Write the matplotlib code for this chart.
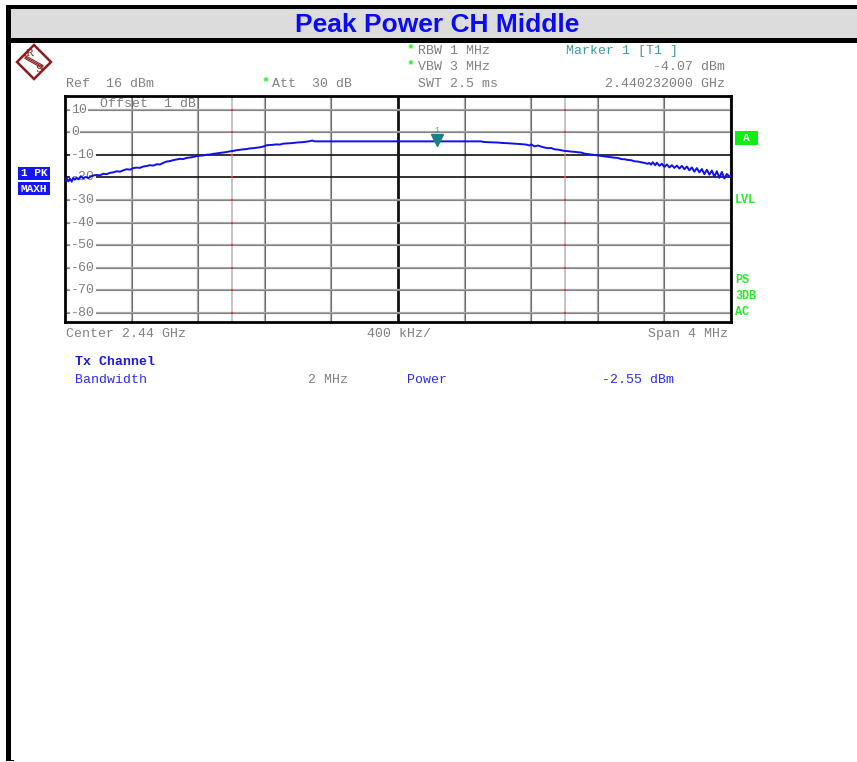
import numpy as np
import matplotlib.pyplot as plt
import matplotlib.patches as mpatches
import matplotlib.lines as mlines

W, H = 857, 762

# trace (offset from 2.44 GHz in MHz, level in dBm)
freq = [-2.000, -1.990, -1.980, -1.970, -1.960, -1.950, -1.940, -1.930, -1.920, -1.905,
        -1.890, -1.875, -1.860, -1.845, -1.830, -1.810, -1.790, -1.770, -1.750, -1.730,
        -1.710, -1.690, -1.670, -1.650, -1.630, -1.610, -1.590, -1.570, -1.550, -1.530,
        -1.510, -1.490, -1.470, -1.450, -1.430, -1.410, -1.390, -1.370, -1.350, -1.330,
        -1.310, -1.290, -1.270, -1.250, -1.230, -1.210, -1.190, -1.170, -1.150, -1.130,
        -1.110, -1.090, -1.070, -1.050, -1.030, -1.010, -0.990, -0.970, -0.950, -0.930,
        -0.910, -0.890, -0.870, -0.850, -0.830, -0.810, -0.790, -0.770, -0.750, -0.730,
        -0.710, -0.690, -0.670, -0.650, -0.630, -0.610, -0.590, -0.570, -0.550, -0.530,
        -0.515, -0.500, 0.500, 0.510, 0.530, 0.560, 0.600, 0.630, 0.660, 0.700,
        0.740, 0.770, 0.790, 0.800, 0.820, 0.840, 0.860, 0.880, 0.900, 0.920,
        0.940, 0.960, 0.980, 1.000, 1.020, 1.040, 1.060, 1.080, 1.100, 1.120,
        1.140, 1.160, 1.180, 1.200, 1.220, 1.240, 1.260, 1.280, 1.300, 1.320,
        1.340, 1.360, 1.380, 1.400, 1.420, 1.440, 1.460, 1.480, 1.500, 1.510,
        1.520, 1.530, 1.545, 1.555, 1.570, 1.585, 1.600, 1.615, 1.630, 1.645,
        1.660, 1.675, 1.690, 1.705, 1.720, 1.735, 1.750, 1.765, 1.780, 1.795,
        1.810, 1.825, 1.840, 1.855, 1.870, 1.885, 1.900, 1.915, 1.930, 1.945,
        1.960, 1.975, 1.990, 2.000]
level = [-21.5, -20.3, -21.8, -20.6, -21.9, -20.2, -21.0, -20.1, -20.9, -19.5,
         -20.4, -19.8, -20.3, -19.6, -19.2, -18.9, -19.1, -18.4, -18.6, -18.0,
         -17.8, -17.3, -17.5, -16.9, -16.4, -16.6, -15.9, -15.7, -15.8, -15.2,
         -15.0, -14.6, -14.8, -14.2, -14.3, -13.6, -13.0, -12.8, -12.4, -12.1,
         -11.8, -11.9, -11.4, -11.2, -11.0, -10.6, -10.4, -10.3, -10.0, -9.9,
         -9.6, -9.4, -9.2, -9.0, -8.8, -8.5, -8.3, -8.0, -7.8, -7.6,
         -7.5, -7.2, -7.1, -6.9, -6.7, -6.4, -5.8, -5.7, -5.6, -5.4,
         -5.5, -5.1, -5.0, -4.9, -4.8, -4.6, -4.5, -4.4, -4.2, -4.0,
         -3.7, -4.07, -4.07, -4.3, -4.4, -4.5, -4.6, -4.8, -4.9, -5.1,
         -5.3, -5.5, -5.9, -5.4, -6.3, -5.9, -6.4, -6.8, -7.1, -7.0,
         -7.6, -7.7, -8.0, -8.3, -8.4, -8.6, -8.7, -8.9, -9.0, -9.5,
         -9.7, -9.9, -10.1, -10.3, -10.5, -10.7, -10.9, -11.1, -11.3, -11.4,
         -11.9, -12.0, -12.3, -12.4, -12.9, -13.0, -13.3, -13.6, -14.0, -13.6,
         -14.4, -13.3, -14.6, -13.5, -14.9, -14.0, -15.4, -14.3, -15.6, -14.6,
         -15.8, -14.8, -16.1, -14.9, -16.4, -15.2, -16.9, -15.6, -17.5, -15.9,
         -17.8, -16.3, -18.6, -16.6, -18.8, -17.0, -19.7, -17.3, -20.2, -17.6,
         -20.5, -18.5, -19.6, -19.3]

y_ticks = [10, 0, -10, -20, -30, -40, -50, -60, -70, -80]
ref_level = 16
marker_f, marker_lvl = 0.232, -4.07
chan_edges = [-1.0, 1.0]

mono = 'Liberation Mono'
gray = '#808080'
blue_txt = '#2b2bf0'
teal = '#3c9c9c'
green = '#22ee22'
rs_red = '#8b1c1c'


def fx(x):
    return x / W


def fy(y):
    return 1 - y / H


fig = plt.figure(figsize=(W / 100, H / 100), dpi=100)

# frame + title bar
fig.patches.append(mpatches.Rectangle((fx(11), fy(38)), fx(W - 11), 29 / H, transform=fig.transFigure,
                                      facecolor='#dcdcdc', edgecolor='none'))
fig.patches.append(mpatches.Rectangle((fx(6), fy(9)), fx(W - 6), 4 / H, transform=fig.transFigure,
                                      facecolor='black', edgecolor='none'))
fig.patches.append(mpatches.Rectangle((fx(6), fy(43)), fx(W - 6), 5 / H, transform=fig.transFigure,
                                      facecolor='black', edgecolor='none'))
fig.patches.append(mpatches.Rectangle((fx(6), fy(760)), 5 / W, 755 / H, transform=fig.transFigure,
                                      facecolor='black', edgecolor='none'))
fig.patches.append(mpatches.Rectangle((fx(6), fy(761)), 8 / W, 1.5 / H, transform=fig.transFigure,
                                      facecolor='black', edgecolor='none'))
fig.text(fx(437), fy(25), 'Peak Power CH Middle', family='Liberation Sans', weight='bold',
         fontsize=19, color='#0a0af5', ha='center', va='center')

# R&S logo
cx, cy, r = 34, 62, 17
fig.patches.append(mpatches.Polygon([(fx(cx - r), fy(cy)), (fx(cx), fy(cy - r)), (fx(cx + r), fy(cy)),
                                     (fx(cx), fy(cy + r))], closed=True, transform=fig.transFigure,
                                    facecolor='white', edgecolor=rs_red, linewidth=1.8))
for d in [-1.5, 0, 1.5]:
    fig.lines.append(mlines.Line2D([fx(cx - 9), fx(cx + 9)], [fy(cy - 5 + d), fy(cy + 5 + d)],
                                   transform=fig.transFigure, color=rs_red, linewidth=0.8))
fig.text(fx(29), fy(54), 'R', family='DejaVu Serif', fontsize=7.5, color=rs_red, ha='center', va='center')
fig.text(fx(39), fy(70), 'S', family='DejaVu Serif', fontsize=7.5, color=rs_red, ha='center', va='center')

# header texts
fs = 9.5
fig.text(fx(66), fy(84), 'Ref  16 dBm', family=mono, fontsize=fs, color=gray, va='center')
fig.text(fx(262), fy(82), '*', family=mono, fontsize=fs, color=green, va='center', weight='bold')
fig.text(fx(272), fy(84), 'Att  30 dB', family=mono, fontsize=fs, color=gray, va='center')
fig.text(fx(407), fy(49), '*', family=mono, fontsize=fs, color=green, va='center', weight='bold')
fig.text(fx(418), fy(51), 'RBW 1 MHz', family=mono, fontsize=fs, color=gray, va='center')
fig.text(fx(407), fy(65), '*', family=mono, fontsize=fs, color=green, va='center', weight='bold')
fig.text(fx(418), fy(67), 'VBW 3 MHz', family=mono, fontsize=fs, color=gray, va='center')
fig.text(fx(418), fy(84), 'SWT 2.5 ms', family=mono, fontsize=fs, color=gray, va='center')
fig.text(fx(566), fy(51), 'Marker 1 [T1 ]', family=mono, fontsize=fs, color=teal, va='center')
fig.text(fx(725), fy(67), '-4.07 dBm', family=mono, fontsize=fs, color=gray, va='center', ha='right')
fig.text(fx(725), fy(84), '2.440232000 GHz', family=mono, fontsize=fs, color=gray, va='center', ha='right')

# left trace boxes
for yb, lab in [(167, '1 PK'), (182, 'MAXH')]:
    fig.patches.append(mpatches.Rectangle((fx(18), fy(yb + 13)), 32 / W, 13 / H, transform=fig.transFigure,
                                          facecolor='#1616f5', edgecolor='none'))
    fig.text(fx(34), fy(yb + 6.5), lab, family=mono, fontsize=8, color='white', weight='bold',
             ha='center', va='center')

# right status
fig.patches.append(mpatches.Rectangle((fx(735), fy(145)), 23 / W, 14 / H, transform=fig.transFigure,
                                      facecolor='#11ee11', edgecolor='none'))
fig.text(fx(746.5), fy(138), 'A', family=mono, fontsize=8, color='white', weight='bold', ha='center', va='center')
for yy, lab in [(200, 'LVL'), (280, 'PS'), (296, '3DB'), (312, 'AC')]:
    fig.text(fx(735), fy(yy), lab, family=mono, fontsize=8.5, color=green, weight='bold', va='center')

# bottom texts
fig.text(fx(66), fy(334), 'Center 2.44 GHz', family=mono, fontsize=fs, color=gray, va='center')
fig.text(fx(367), fy(334), '400 kHz/', family=mono, fontsize=fs, color=gray, va='center')
fig.text(fx(728), fy(334), 'Span 4 MHz', family=mono, fontsize=fs, color=gray, va='center', ha='right')
fig.text(fx(75), fy(362), 'Tx Channel', family=mono, fontsize=fs, color='#1a1ae0', va='center', weight='bold')
fig.text(fx(75), fy(380), 'Bandwidth', family=mono, fontsize=fs, color=blue_txt, va='center')
fig.text(fx(308), fy(380), '2 MHz', family=mono, fontsize=fs, color=gray, va='center')
fig.text(fx(407), fy(380), 'Power', family=mono, fontsize=fs, color=blue_txt, va='center')
fig.text(fx(602), fy(380), '-2.55 dBm', family=mono, fontsize=fs, color=blue_txt, va='center')

# plot area
ax = fig.add_axes([fx(65), fy(322), 666 / W, 226 / H])
ax.set_xlim(-2, 2)
ax.set_ylim(ref_level - 100, ref_level)
ax.set_xticks([])
ax.set_yticks([])
for s in ax.spines.values():
    s.set_linewidth(2)

for xv in np.arange(-2, 2.01, 0.4):
    if abs(xv) < 1e-6:
        ax.axvline(xv, color='#111111', linewidth=2, zorder=1)
    else:
        ax.axvline(xv, color='#a8a8a8', linewidth=1.6, zorder=1)
        ax.axvline(xv, color='#555555', linewidth=0.5, zorder=1)
for xv in chan_edges:
    ax.axvline(xv, color='#c4c4c4', linewidth=1.4, zorder=1)
    ax.scatter([xv] * len(y_ticks), y_ticks, s=3, color='#ee3333', marker='s', linewidths=0, zorder=2)
for yv in y_ticks:
    if yv in (-10, -20):
        ax.axhline(yv, color='#111111', linewidth=1.2, zorder=1)
    else:
        ax.axhline(yv, color='#a8a8a8', linewidth=1.6, zorder=1)
        ax.axhline(yv, color='#666666', linewidth=0.4, zorder=1)
    ax.text(0.009, yv, '%d' % yv, transform=ax.get_yaxis_transform(), family=mono, fontsize=fs,
            color=gray, va='center', ha='left', zorder=3,
            bbox=dict(facecolor='white', edgecolor='none', pad=0.5))

ax.text(0.053, 10, 'Offset  1 dB', transform=ax.get_yaxis_transform(), family=mono, fontsize=fs,
        color=gray, va='bottom', ha='left', zorder=3)

ax.plot(freq, level, color='#1010ee', linewidth=1.4, zorder=4)

# marker
ax.plot([marker_f], [marker_lvl + 0.6], marker='v', markersize=8, color='#1a8080', zorder=5)
ax.text(marker_f, marker_lvl + 5, '1', family=mono, fontsize=6, color=teal, ha='center', va='center', zorder=5)

plt.savefig('out.png', dpi=100)
